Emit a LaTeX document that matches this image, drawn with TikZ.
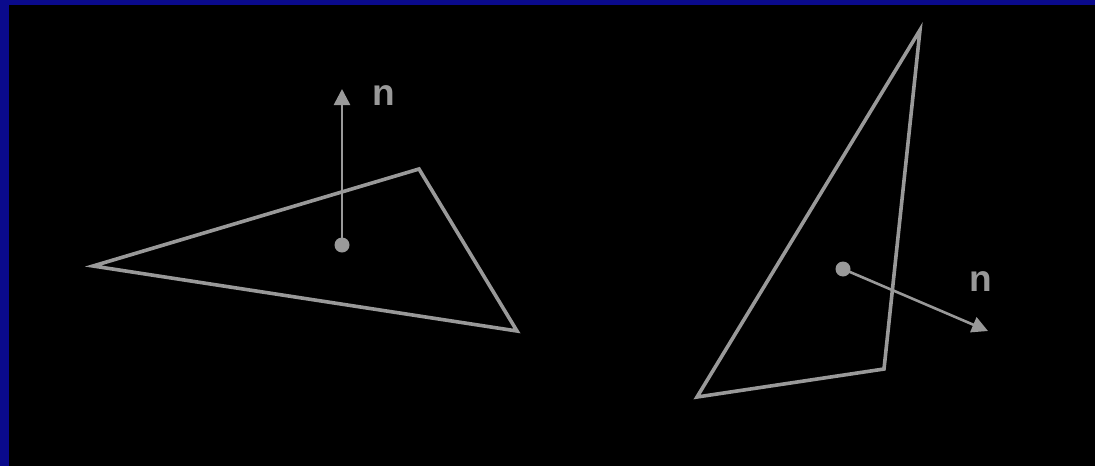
\documentclass[tikz,border=0pt]{standalone}
\usepackage{fontspec}
\setmainfont{Liberation Sans}
\usetikzlibrary{arrows.meta}
\definecolor{bgblue}{RGB}{10,10,140}
\definecolor{lgray}{RGB}{153,153,153}
\tikzset{
  tri/.style={draw=lgray, line width=3.6pt, line join=miter},
  normal/.style={draw=lgray, line width=2.6pt, -{Triangle[length=16pt,width=16pt]}},
  dotpt/.style={circle, fill=lgray, inner sep=0pt, minimum size=15pt},
  lab/.style={text=lgray, font=\fontsize{37}{40}\selectfont\bfseries, inner sep=0pt}
}
\begin{document}
\begin{tikzpicture}[x=1pt,y=-1pt]
\fill[bgblue] (0,0) rectangle (1095,466);
\fill[black] (9,5) rectangle (1095,466);
\useasboundingbox (0,0) rectangle (1095,466);
% left triangle
\coordinate (a1) at (93,266);
\coordinate (a2) at (419,169);
\coordinate (a3) at (517,331);
\draw[tri] (a1) -- (a2) -- (a3) -- cycle;
\node[dotpt] (d1) at (342,245) {};
\coordinate (t1) at (342,89);
\draw[normal] (d1.center) -- (t1);
\node[lab] (n1) at (384,96) {n};
% right triangle
\coordinate (b1) at (920,30);
\coordinate (b2) at (884,369);
\coordinate (b3) at (697,397);
\draw[tri] (b1) -- (b2) -- (b3) -- cycle;
\node[dotpt] (d2) at (843,269) {};
\coordinate (t2) at (988,331);
\draw[normal] (d2.center) -- (t2);
\node[lab] (n2) at (981,282) {n};
\end{tikzpicture}
\end{document}
